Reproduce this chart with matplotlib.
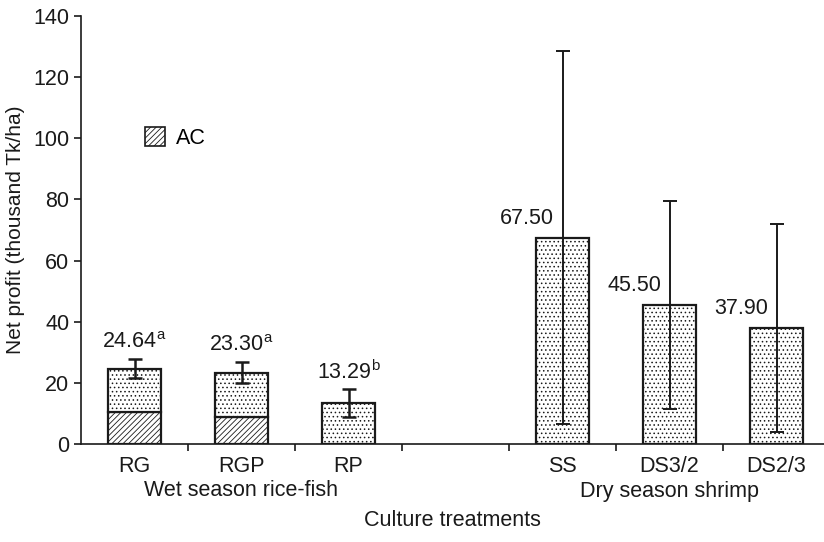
import matplotlib
matplotlib.use("Agg")
import matplotlib.pyplot as plt
from matplotlib.patches import Patch
import numpy as np

plt.rcParams['font.family'] = ['Liberation Sans', 'DejaVu Sans']
plt.rcParams['mathtext.fontset'] = 'custom'
plt.rcParams['mathtext.rm'] = 'Liberation Sans'
plt.rcParams['hatch.linewidth'] = 0.6

categories = ['RG', 'RGP', 'RP', 'SS', 'DS3/2', 'DS2/3']
groups = ['Wet season rice-fish', 'Dry season shrimp']
group_of = [0, 0, 0, 1, 1, 1]
net_profit = [24.64, 23.30, 13.29, 67.50, 45.50, 37.90]
ac_part = [10.6, 8.7, 0.0, 0.0, 0.0, 0.0]
errors = [3.1, 3.4, 4.6, 61.0, 34.0, 34.0]
value_labels = ['24.64', '23.30', '13.29', '67.50', '45.50', '37.90']
superscripts = ['a', 'a', 'b', '', '', '']

FS = 15.5
fig = plt.figure(figsize=(8.24, 5.42), dpi=100)
ax = fig.add_axes([81/824, 1-444/542, 1-81/824, (444-16)/542])

# positions: one empty slot between groups
pos = np.array([i + group_of[i] for i in range(len(categories))], dtype=float)
width = 0.5
net = np.array(net_profit)
ac = np.array(ac_part)
err = np.array(errors)

# AC part
ax.bar(pos, ac, width, color='white', edgecolor='#1a1a1a', linewidth=1.6,
       hatch='//////', zorder=2)
# remainder stippled
ax.bar(pos, net - ac, width, bottom=ac, color='white', edgecolor='#1a1a1a',
       linewidth=1.6, hatch='....', zorder=2)
# error bars
for i in range(len(categories)):
    lw = 1.8 if group_of[i] == 0 else 1.4
    ax.errorbar(pos[i], net[i], yerr=err[i], fmt='none', ecolor='#1a1a1a',
                elinewidth=lw, capsize=5, capthick=lw, zorder=3)

# value labels
for i in range(len(categories)):
    txt = value_labels[i]
    if superscripts[i]:
        txt += r'$^{\mathrm{' + superscripts[i] + '}}$'
        ax.text(pos[i], net[i] + err[i] + 5.5, txt, ha='center', va='center',
                fontsize=FS, color='#1a1a1a')
    else:
        ax.text(pos[i] - 0.33, net[i] + 6.3, txt, ha='center', va='center',
                fontsize=FS, color='#1a1a1a')

ax.set_ylim(0, 140)
ax.set_xlim(-0.5, -0.5 + 743/107)
ax.set_yticks(np.arange(0, 141, 20))
ax.set_xticks([0.5, 1.5, 2.5, 3.5, 4.5, 5.5])
ax.set_xticklabels([])
ax.tick_params(axis='both', direction='out', length=5, width=1.2,
               colors='#1a1a1a', labelsize=FS)
for s in ['top', 'right']:
    ax.spines[s].set_visible(False)
for s in ['left', 'bottom']:
    ax.spines[s].set_linewidth(1.2)
    ax.spines[s].set_color('#1a1a1a')

# category labels
for i, c in enumerate(categories):
    ax.annotate(c, xy=(pos[i], 0), xycoords=('data', 'axes fraction'),
                xytext=(0, -23), textcoords='offset pixels', ha='center',
                va='center', fontsize=FS, color='#1a1a1a')
# group labels
for g, name in enumerate(groups):
    gpos = pos[[i for i in range(len(categories)) if group_of[i] == g]].mean()
    ax.annotate(name, xy=(gpos, 0), xycoords=('data', 'axes fraction'),
                xytext=(0, -47), textcoords='offset pixels', ha='center',
                va='center', fontsize=FS, color='#1a1a1a')

fig.text(452/824, 1-521/542, 'Culture treatments', ha='center', va='center',
         fontsize=FS, color='#1a1a1a')
ax.set_ylabel('Net profit (thousand Tk/ha)', fontsize=15, color='#1a1a1a',
              labelpad=6)

leg_handle = Patch(facecolor='white', edgecolor='#1a1a1a', hatch='//////',
                   linewidth=1.2, label='AC')
ax.legend(handles=[leg_handle], loc='center left',
          bbox_to_anchor=((134 - 81)/743, (444-138)/428), frameon=False,
          fontsize=FS, handlelength=0.95, handleheight=1.0, handletextpad=0.5,
          borderpad=0)

fig.savefig('out.png', dpi=100)
